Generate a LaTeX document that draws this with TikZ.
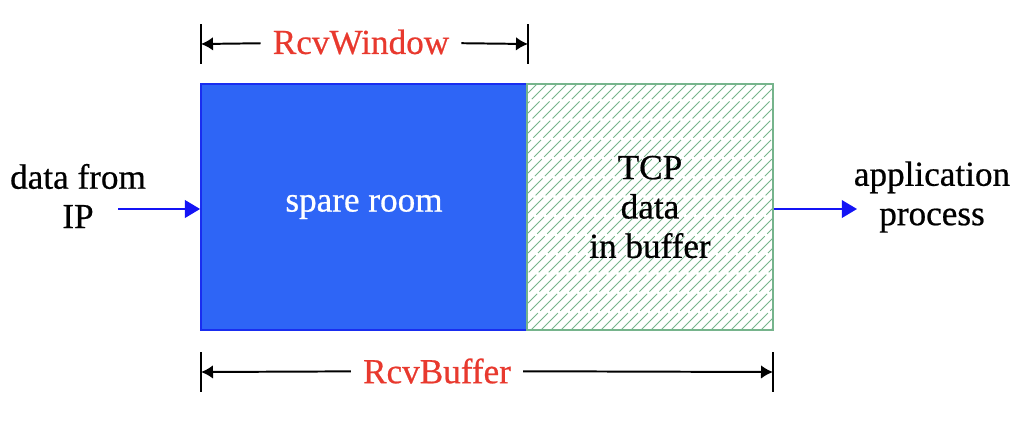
\documentclass[tikz,border=0pt]{standalone}
\usepackage{fontspec}
\setmainfont{Liberation Serif}[FakeBold=0.6]
\usetikzlibrary{arrows.meta}
\definecolor{roomblue}{RGB}{46,101,246}
\definecolor{edgeblue}{RGB}{25,45,240}
\definecolor{hatchgreen}{RGB}{118,180,140}
\definecolor{labelred}{RGB}{232,57,46}
\definecolor{flowblue}{RGB}{20,20,245}
\begin{document}
\begin{tikzpicture}
[x=0.025cm,y=-0.025cm,
  textdecorate/.style={align=center,font=\fontsize{25}{28}\selectfont},
  roomdecorate/.style={shape=rectangle,draw=edgeblue,fill=roomblue,line width=1.2pt,
    minimum width=8.15cm,minimum height=6.15cm,text=white,textdecorate},
  bufferdecorate/.style={shape=rectangle,draw=hatchgreen,line width=1.2pt,
    minimum width=6.15cm,minimum height=6.15cm,textdecorate,
    path picture={\foreach \k in {0,10,...,500} {
      \draw[hatchgreen,line width=0.6pt,dash pattern=on 0.6cm off 0.08cm]
        ([xshift=\k*0.025cm-6.15cm]path picture bounding box.south west) -- ++(6.3cm,6.3cm);}}},
  dimdecorate/.style={-{Latex[length=0.3cm,width=0.34cm]},line width=1.4pt},
  tickdecorate/.style={line width=1.2pt},
  labeldecorate/.style={textdecorate,text=labelred,inner xsep=0.3cm},
  flowdecorate/.style={-{Triangle[length=0.38cm,width=0.44cm]},flowblue,line width=1.4pt}]
\useasboundingbox (0,0) rectangle (1034,424);
%% buffer boxes
\node (spare) at (364,207) [roomdecorate] {spare room};
\node (tcp) at (650,207) [bufferdecorate] {TCP\\data\\in buffer};
%% outside labels
\node (ip) at (78,196) [textdecorate] {data from\\IP};
\node (app) at (932,197) [textdecorate] {application\\process};
\coordinate (ipstart) at (118,209);
\coordinate (append) at (857,209);
%% dimension marks
\coordinate (wl) at (201,44);
\coordinate (wr) at (528,44);
\coordinate (bl) at (201,372);
\coordinate (br) at (773,372);
\node (rcvwindow) at (361,42) [labeldecorate] {RcvWindow};
\node (rcvbuffer) at (437,371) [labeldecorate] {RcvBuffer};
\foreach \c in {wl,wr,bl,br} {
  \draw[tickdecorate] ([yshift=0.5cm]\c) -- ([yshift=-0.5cm]\c);
}
\foreach \startnode/\endnode in {rcvwindow/wl, rcvwindow/wr, rcvbuffer/bl, rcvbuffer/br} {
  \draw[dimdecorate] (\startnode) -- (\endnode);
}
%% data flow
\draw[flowdecorate] (ipstart) -- (ipstart -| spare.west);
\draw[flowdecorate] (append -| tcp.east) -- (append);
\end{tikzpicture}
\end{document}
